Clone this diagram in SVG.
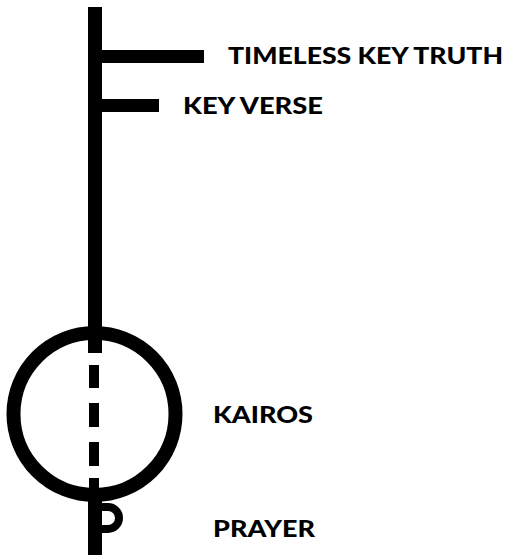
<svg xmlns="http://www.w3.org/2000/svg" width="507" height="555" viewBox="0 0 507 555">
<style>
.lbl{font-family:"Lato","Liberation Sans",sans-serif;font-weight:900;font-size:23px;fill:#000}
.ln{fill:#000}
</style>
<rect width="507" height="555" fill="#fff"/>
<g id="connectors">
<rect class="ln" x="88" y="7" width="14" height="346"/>
<rect class="ln" x="89" y="365" width="10" height="23"/>
<rect class="ln" x="89" y="403" width="10" height="24"/>
<rect class="ln" x="89" y="442" width="10" height="24"/>
<rect class="ln" x="89" y="478" width="10" height="22"/>
<rect class="ln" x="88" y="495" width="14" height="60"/>
</g>
<g id="timeless">
<rect class="ln" x="100" y="50" width="104" height="13"/>
<text class="lbl" x="228" y="64" textLength="275" lengthAdjust="spacingAndGlyphs">TIMELESS KEY TRUTH</text>
</g>
<g id="keyverse">
<rect class="ln" x="100" y="99" width="59" height="13"/>
<text class="lbl" x="183" y="114" textLength="140" lengthAdjust="spacingAndGlyphs">KEY VERSE</text>
</g>
<g id="kairos">
<circle cx="94.5" cy="414" r="81" fill="none" stroke="#000" stroke-width="14"/>
<text class="lbl" x="213" y="423" textLength="100" lengthAdjust="spacingAndGlyphs">KAIROS</text>
</g>
<g id="prayer">
<path d="M100 507 H108 A11 11 0 0 1 108 529 H100" fill="none" stroke="#000" stroke-width="8"/>
<text class="lbl" x="213" y="537" textLength="102" lengthAdjust="spacingAndGlyphs">PRAYER</text>
</g>
</svg>
